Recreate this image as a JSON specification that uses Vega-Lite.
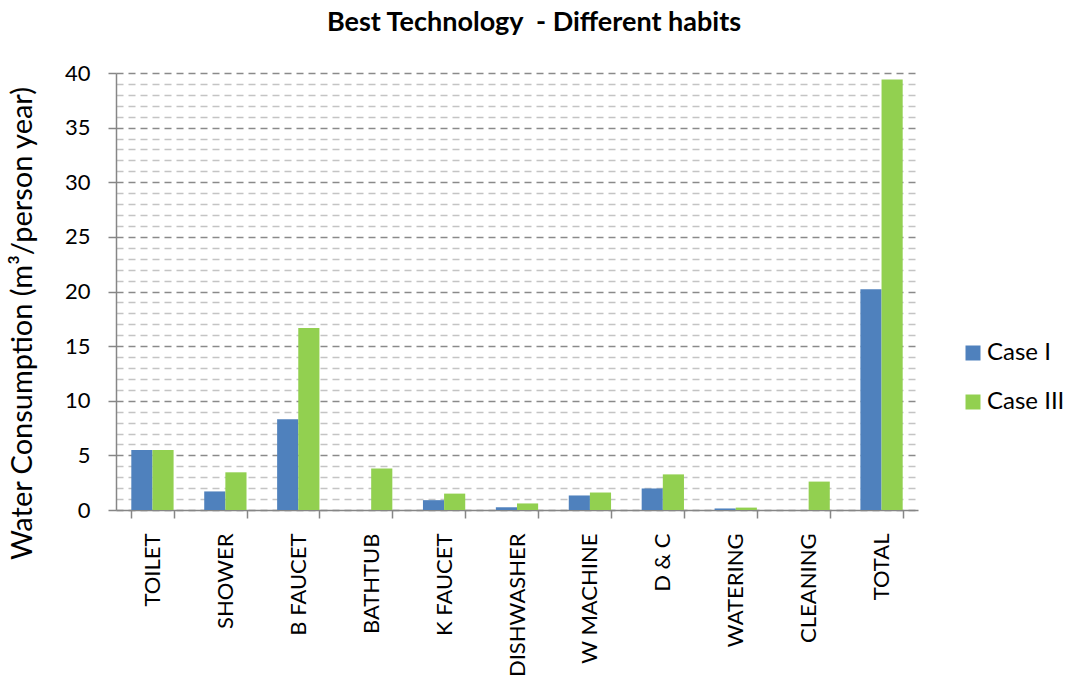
{
  "$schema": "https://vega.github.io/schema/vega-lite/v6.json",
  "autosize": "none",
  "width": 802,
  "height": 437,
  "padding": {"left": 116, "top": 73, "right": 148, "bottom": 172},
  "background": "white",
  "title": {
    "text": "Best Technology\u00a0 - Different habits",
    "font": "Lato",
    "fontSize": 27,
    "fontWeight": "bold",
    "color": "#000000",
    "anchor": "middle",
    "frame": "group",
    "baseline": "alphabetic",
    "dx": 17,
    "offset": 4
  },
  "data": {
    "values": [
      {"use": "TOILET", "case": "Case I", "value": 5.5},
      {"use": "TOILET", "case": "Case III", "value": 5.5},
      {"use": "SHOWER", "case": "Case I", "value": 1.7},
      {"use": "SHOWER", "case": "Case III", "value": 3.45},
      {"use": "B FAUCET", "case": "Case I", "value": 8.3},
      {"use": "B FAUCET", "case": "Case III", "value": 16.65},
      {"use": "BATHTUB", "case": "Case I", "value": 0},
      {"use": "BATHTUB", "case": "Case III", "value": 3.8},
      {"use": "K FAUCET", "case": "Case I", "value": 0.9},
      {"use": "K FAUCET", "case": "Case III", "value": 1.5},
      {"use": "DISHWASHER", "case": "Case I", "value": 0.25},
      {"use": "DISHWASHER", "case": "Case III", "value": 0.6},
      {"use": "W MACHINE", "case": "Case I", "value": 1.33},
      {"use": "W MACHINE", "case": "Case III", "value": 1.6},
      {"use": "D & C", "case": "Case I", "value": 1.97},
      {"use": "D & C", "case": "Case III", "value": 3.26},
      {"use": "WATERING", "case": "Case I", "value": 0.14},
      {"use": "WATERING", "case": "Case III", "value": 0.22},
      {"use": "CLEANING", "case": "Case I", "value": 0},
      {"use": "CLEANING", "case": "Case III", "value": 2.6},
      {"use": "TOTAL", "case": "Case I", "value": 20.2},
      {"use": "TOTAL", "case": "Case III", "value": 39.4}
    ]
  },
  "mark": {"type": "bar"},
  "encoding": {
    "x": {
      "field": "use",
      "type": "nominal",
      "sort": null,
      "title": null,
      "scale": {"paddingInner": 0.42, "paddingOuter": 0.21},
      "axis": {
        "labelAngle": -90,
        "labelAlign": "right",
        "labelBaseline": "middle",
        "labelFont": "Lato",
        "labelFontSize": 22,
        "labelColor": "#000000",
        "labelPadding": 15,
        "tickBand": "extent",
        "tickSize": 8,
        "tickColor": "#868686",
        "tickWidth": 1.5,
        "domainColor": "#868686",
        "domainWidth": 1.5,
        "grid": false
      }
    },
    "xOffset": {"field": "case", "type": "nominal"},
    "y": {
      "field": "value",
      "type": "quantitative",
      "scale": {"domain": [0, 40], "nice": false},
      "title": "Water Consumption (m³/person year)",
      "axis": {
        "values": [0,1,2,3,4,5,6,7,8,9,10,11,12,13,14,15,16,17,18,19,20,21,22,23,24,25,26,27,28,29,30,31,32,33,34,35,36,37,38,39,40],
        "labelExpr": "datum.value % 5 === 0 ? datum.label : ''",
        "labelFont": "Lato",
        "labelFontSize": 22,
        "labelColor": "#000000",
        "labelPadding": 18,
        "tickSize": 8,
        "tickWidth": 1.5,
        "tickColor": {"condition": {"test": "datum.value % 5 === 0", "value": "#868686"}, "value": "rgba(0,0,0,0)"},
        "domainColor": "#868686",
        "domainWidth": 1.5,
        "grid": true,
        "gridDash": [7, 5],
        "gridWidth": 1.5,
        "gridColor": {"condition": {"test": "datum.value % 5 === 0", "value": "#8a8a8a"}, "value": "#c4c4c4"},
        "titleFont": "Lato",
        "titleFontSize": 29,
        "titleFontWeight": "normal",
        "titleColor": "#000000",
        "titleAngle": -90,
        "titleBaseline": "middle",
        "titleAnchor": "middle",
        "titleX": -94,
        "titleY": 250
      }
    },
    "color": {
      "field": "case",
      "type": "nominal",
      "scale": {"domain": ["Case I", "Case III"], "range": ["#4F81BD", "#92D050"]},
      "legend": {
        "title": null,
        "orient": "none",
        "legendX": 845,
        "legendY": 268,
        "symbolType": "square",
        "symbolSize": 225,
        "symbolStrokeWidth": 0,
        "labelFont": "Lato",
        "labelFontSize": 24,
        "labelColor": "#000000",
        "labelOffset": 2,
        "rowPadding": 25
      }
    }
  },
  "config": {"view": {"stroke": null}}
}
